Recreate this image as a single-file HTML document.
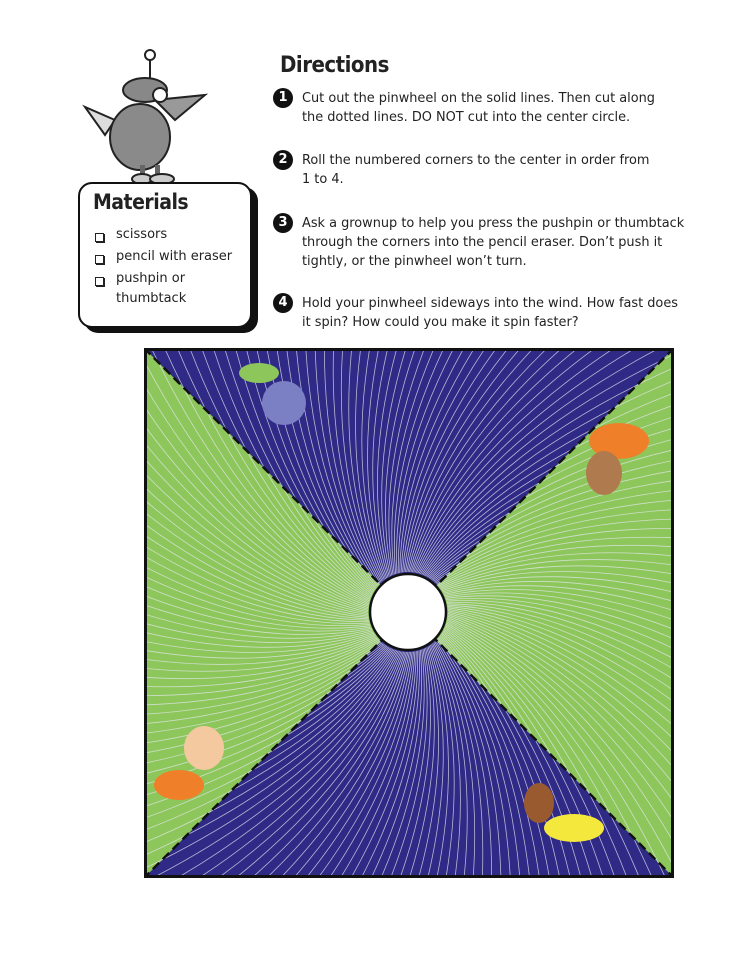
<!DOCTYPE html>
<html><head><meta charset="utf-8"><style>
html,body{margin:0;background:#fff;width:750px;height:971px;overflow:hidden;position:relative;font-family:"DejaVu Sans","Liberation Sans",sans-serif;color:#222}
.t{position:absolute;left:302px;font-size:12.9px;line-height:19px;white-space:nowrap}
.n{position:absolute;left:273px;width:20px;height:20px;border-radius:50%;background:#111;color:#fff;font-weight:bold;font-size:13px;text-align:center;line-height:20px}
.mi{position:absolute;left:116px;font-size:13px;line-height:20px}
.cb{position:absolute;left:95px;width:7px;height:7px;border:1.5px solid #222;box-shadow:1px 1px 0 #222}
</style></head><body>
<svg style="position:absolute;left:80px;top:45px" width="140" height="140">
<circle cx="70" cy="10" r="5" fill="#fff" stroke="#222" stroke-width="2"/><line x1="70" y1="15" x2="70" y2="35" stroke="#222" stroke-width="2"/>
<ellipse cx="65" cy="45" rx="22" ry="12" fill="#888" stroke="#222" stroke-width="2"/>
<path d="M35 75 L5 62 L25 90 Z" fill="#ddd" stroke="#222" stroke-width="2"/>
<ellipse cx="60" cy="92" rx="30" ry="33" fill="#8a8a8a" stroke="#222" stroke-width="2"/>
<path d="M75 55 L125 50 L95 75 Z" fill="#999" stroke="#222" stroke-width="2"/>
<circle cx="80" cy="50" r="7" fill="#fff" stroke="#222" stroke-width="2"/>
<rect x="60" y="120" width="5" height="15" fill="#666"/><rect x="75" y="120" width="5" height="15" fill="#666"/>
<ellipse cx="62" cy="134" rx="10" ry="5" fill="#ccc" stroke="#222" stroke-width="2"/><ellipse cx="82" cy="134" rx="12" ry="5" fill="#ccc" stroke="#222" stroke-width="2"/>
</svg>
<div style="position:absolute;left:78px;top:182px;width:170px;height:142px;border:2px solid #111;border-radius:14px;background:#fff;box-shadow:6px 5px 0 #111"></div>
<div style="position:absolute;left:93px;top:190px;font-size:21px;font-weight:bold;font-family:'DejaVu Sans Condensed','DejaVu Sans',sans-serif;letter-spacing:-0.5px">Materials</div>
<div class="cb" style="top:233px"></div><div class="mi" style="top:225px">scissors</div>
<div class="cb" style="top:255px"></div><div class="mi" style="top:247px">pencil with eraser</div>
<div class="cb" style="top:277px"></div><div class="mi" style="top:269px">pushpin or<br>thumbtack</div>
<div style="position:absolute;left:280px;top:53px;font-size:22px;font-weight:bold;font-family:'DejaVu Sans Condensed','DejaVu Sans',sans-serif;letter-spacing:-0.5px">Directions</div>
<div class="n" style="top:88px">1</div><div class="t" style="top:89px">Cut out the pinwheel on the solid lines. Then cut along<br>the dotted lines. DO NOT cut into the center circle.</div>
<div class="n" style="top:150px">2</div><div class="t" style="top:151px">Roll the numbered corners to the center in order from<br>1 to 4.</div>
<div class="n" style="top:213px">3</div><div class="t" style="top:214px">Ask a grownup to help you press the pushpin or thumbtack<br>through the corners into the pencil eraser. Don’t push it<br>tightly, or the pinwheel won’t turn.</div>
<div class="n" style="top:293px">4</div><div class="t" style="top:294px">Hold your pinwheel sideways into the wind. How fast does<br>it spin? How could you make it spin faster?</div>
<svg id="pw" style="position:absolute;left:144px;top:348px" width="530" height="530" viewBox="0 0 530 530">
<defs><clipPath id="c"><rect x="2" y="2" width="526" height="526"/></clipPath></defs>
<g clip-path="url(#c)">
<rect width="530" height="530" fill="#8dc75b"/>
<polygon points="0,0 530,0 265,265" fill="#2f2a86"/>
<polygon points="0,530 530,530 265,265" fill="#2f2a86"/>
<g id="lines" stroke="#e6e6f0" stroke-width="0.8" fill="none" opacity="0.75"></g>
<line x1="0" y1="0" x2="530" y2="530" stroke="#111" stroke-width="2.5" stroke-dasharray="9,5"/>
<line x1="530" y1="0" x2="0" y2="530" stroke="#111" stroke-width="2.5" stroke-dasharray="9,5"/>
<ellipse cx="115" cy="25" rx="20" ry="10" fill="#8dc75b"/>
<ellipse cx="140" cy="55" rx="22" ry="22" fill="#7b7fc4"/>
<ellipse cx="475" cy="93" rx="30" ry="18" fill="#f07f2a"/>
<ellipse cx="460" cy="125" rx="18" ry="22" fill="#b07a4f"/>
<ellipse cx="35" cy="437" rx="25" ry="15" fill="#f07f2a"/>
<ellipse cx="60" cy="400" rx="20" ry="22" fill="#f5c9a0"/>
<ellipse cx="430" cy="480" rx="30" ry="14" fill="#f5e83c"/>
<ellipse cx="395" cy="455" rx="15" ry="20" fill="#9a5a30"/>
</g>
<rect x="1.5" y="1.5" width="527" height="527" fill="none" stroke="#111" stroke-width="3"/>
<circle cx="264" cy="264" r="38" fill="#fff" stroke="#111" stroke-width="2.5"/>
</svg>
<script>
var g=document.getElementById('lines'),s='';
for(var i=0;i<180;i++){var a=i/180*2*Math.PI,cx=264,cy=264,r0=40,r1=420,tw=0.6;
var x0=cx+r0*Math.cos(a),y0=cy+r0*Math.sin(a),xm=cx+200*Math.cos(a+tw*0.3),ym=cy+200*Math.sin(a+tw*0.3),x1=cx+r1*Math.cos(a+tw),y1=cy+r1*Math.sin(a+tw);
s+='<path d="M'+x0+' '+y0+' Q'+xm+' '+ym+' '+x1+' '+y1+'"/>';}
g.innerHTML=s;
</script>
</body></html>
